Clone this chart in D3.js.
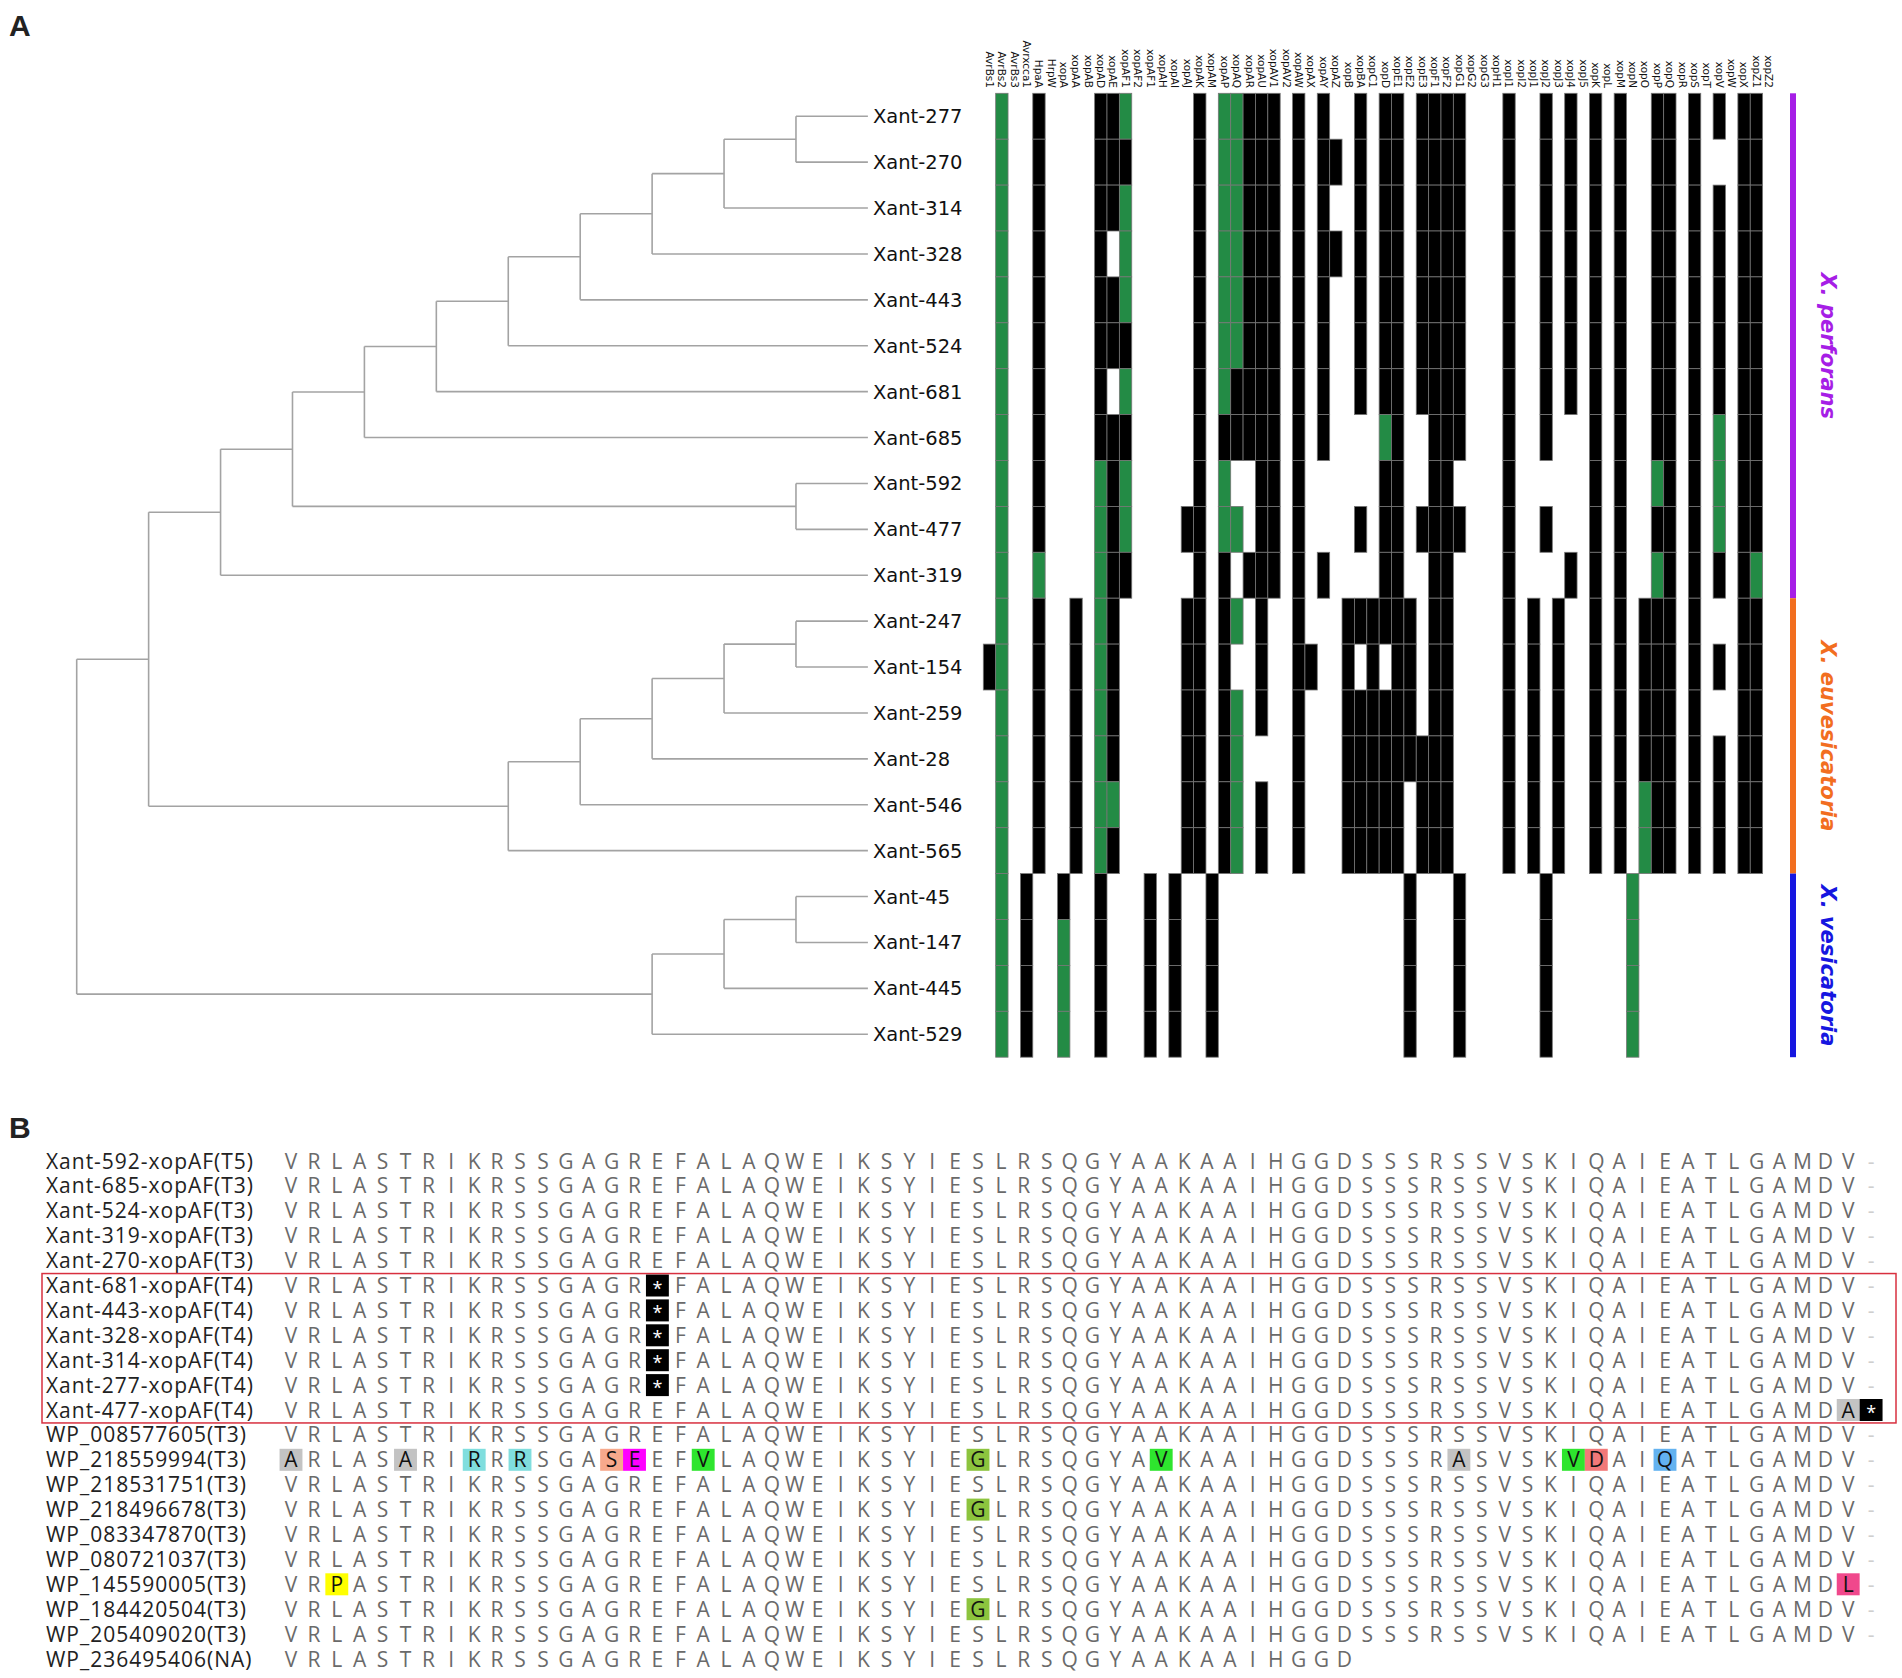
<!DOCTYPE html>
<html><head><meta charset="utf-8">
<script src="https://cdn.jsdelivr.net/npm/d3@7"></script>
<style>body{margin:0;background:#fff}svg{display:block}</style>
</head><body>
<svg id="fig" width="1902" height="1678"></svg>
<script>
// ---------------- DATA ----------------
const strains = ["Xant-277","Xant-270","Xant-314","Xant-328","Xant-443","Xant-524","Xant-681","Xant-685","Xant-592","Xant-477","Xant-319","Xant-247","Xant-154","Xant-259","Xant-28","Xant-546","Xant-565","Xant-45","Xant-147","Xant-445","Xant-529"];
const treeNewick = "(((((((((((Xant-277,Xant-270),Xant-314),Xant-328),Xant-443),Xant-524),Xant-681),Xant-685),(Xant-592,Xant-477)),Xant-319),(((((Xant-247,Xant-154),Xant-259),Xant-28),Xant-546),Xant-565)),(((Xant-45,Xant-147),Xant-445),Xant-529))";
const effectors = ["AvrBs1","AvrBs2","AvrBs3","Avrxcca1","HpaA","HrpW","xopA","xopAA","xopAB","xopAD","xopAE","xopAF1","xopAF2","xopAF1","xopAH","xopAI","xopAJ","xopAK","xopAM","xopAP","xopAQ","xopAR","xopAU","xopAV1","xopAV2","xopAW","xopAX","xopAY","xopAZ","xopB","xopBA","xopC1","xopD","xopE1","xopE2","xopE3","xopF1","xopF2","xopG1","xopG2","xopG3","xopH1","xopI1","xopI2","xopJ1","xopJ2","xopJ3","xopJ4","xopJ5","xopK","xopL","xopM","xopN","xopO","xopP","xopQ","xopR","xopS","xopT","xopV","xopW","xopX","xopZ1","xopZ2"];
// 0 = absent, 1 = present (black), 2 = present (green); one string per strain, one char per effector
const presence = [
 "02001000"+"01120000"+"01022111"+"01010010"+"11011110"+"00100101"+"01010011"+"01010110",
 "02001000"+"01110000"+"01022111"+"01011010"+"11011110"+"00100101"+"01010011"+"01000110",
 "02001000"+"01120000"+"01022111"+"01010010"+"11011110"+"00100101"+"01010011"+"01010110",
 "02001000"+"01020000"+"01022111"+"01011010"+"11011110"+"00100101"+"01010011"+"01010110",
 "02001000"+"01120000"+"01022111"+"01010010"+"11011110"+"00100101"+"01010011"+"01010110",
 "02001000"+"01110000"+"01022111"+"01010010"+"11011110"+"00100101"+"01010011"+"01010110",
 "02001000"+"01020000"+"01021111"+"01010010"+"11011110"+"00100101"+"01010011"+"01010110",
 "02001000"+"01110000"+"01011111"+"01010000"+"21001110"+"00100100"+"01010011"+"01020110",
 "02001000"+"02120000"+"01020011"+"01000000"+"11001100"+"00100000"+"01010021"+"01020110",
 "02001000"+"02120000"+"11022011"+"01000010"+"11011110"+"00100100"+"01010011"+"01020110",
 "02002000"+"02110000"+"01010111"+"01010000"+"11001100"+"00100001"+"01010021"+"01010120",
 "02001001"+"02100000"+"11012010"+"01000111"+"11101100"+"00101010"+"01010111"+"01000110",
 "12001001"+"02100000"+"11010010"+"01100101"+"01101100"+"00101010"+"01010111"+"01010110",
 "02001001"+"02100000"+"11012010"+"01000111"+"11101100"+"00101010"+"01010111"+"01000110",
 "02001001"+"02100000"+"11012000"+"01000111"+"11111100"+"00101010"+"01010111"+"01010110",
 "02001001"+"02200000"+"11012010"+"01000111"+"11011100"+"00101010"+"01010211"+"01010110",
 "02001001"+"02100000"+"11012010"+"01000111"+"11011100"+"00101010"+"01010211"+"01010110",
 "02010010"+"01000101"+"00100000"+"00000000"+"00100010"+"00000100"+"00002000"+"00000000",
 "02010020"+"01000101"+"00100000"+"00000000"+"00100010"+"00000100"+"00002000"+"00000000",
 "02010020"+"01000101"+"00100000"+"00000000"+"00100010"+"00000100"+"00002000"+"00000000",
 "02010020"+"01000101"+"00100000"+"00000000"+"00100010"+"00000100"+"00002000"+"00000000"
];
const speciesNames = ["X. perforans","X. euvesicatoria","X. vesicatoria"];
const speciesCounts = [11, 6, 4];

const alnNames = ["Xant-592-xopAF(T5)","Xant-685-xopAF(T3)","Xant-524-xopAF(T3)","Xant-319-xopAF(T3)","Xant-270-xopAF(T3)","Xant-681-xopAF(T4)","Xant-443-xopAF(T4)","Xant-328-xopAF(T4)","Xant-314-xopAF(T4)","Xant-277-xopAF(T4)","Xant-477-xopAF(T4)","WP_008577605(T3)","WP_218559994(T3)","WP_218531751(T3)","WP_218496678(T3)","WP_083347870(T3)","WP_080721037(T3)","WP_145590005(T3)","WP_184420504(T3)","WP_205409020(T3)","WP_236495406(NA)"];
const alnSeqs = [
 "VRLASTRIKRSSGAGREFALAQWEIKSYIESLRSQGYAAKAAIHGGDSSSRSSVSKIQAIEATLGAMDV-",
 "VRLASTRIKRSSGAGREFALAQWEIKSYIESLRSQGYAAKAAIHGGDSSSRSSVSKIQAIEATLGAMDV-",
 "VRLASTRIKRSSGAGREFALAQWEIKSYIESLRSQGYAAKAAIHGGDSSSRSSVSKIQAIEATLGAMDV-",
 "VRLASTRIKRSSGAGREFALAQWEIKSYIESLRSQGYAAKAAIHGGDSSSRSSVSKIQAIEATLGAMDV-",
 "VRLASTRIKRSSGAGREFALAQWEIKSYIESLRSQGYAAKAAIHGGDSSSRSSVSKIQAIEATLGAMDV-",
 "VRLASTRIKRSSGAGR*FALAQWEIKSYIESLRSQGYAAKAAIHGGDSSSRSSVSKIQAIEATLGAMDV-",
 "VRLASTRIKRSSGAGR*FALAQWEIKSYIESLRSQGYAAKAAIHGGDSSSRSSVSKIQAIEATLGAMDV-",
 "VRLASTRIKRSSGAGR*FALAQWEIKSYIESLRSQGYAAKAAIHGGDSSSRSSVSKIQAIEATLGAMDV-",
 "VRLASTRIKRSSGAGR*FALAQWEIKSYIESLRSQGYAAKAAIHGGDSSSRSSVSKIQAIEATLGAMDV-",
 "VRLASTRIKRSSGAGR*FALAQWEIKSYIESLRSQGYAAKAAIHGGDSSSRSSVSKIQAIEATLGAMDV-",
 "VRLASTRIKRSSGAGREFALAQWEIKSYIESLRSQGYAAKAAIHGGDSSSRSSVSKIQAIEATLGAMDA*",
 "VRLASTRIKRSSGAGREFALAQWEIKSYIESLRSQGYAAKAAIHGGDSSSRSSVSKIQAIEATLGAMDV-",
 "ARLASARIRRRSGASEEFVLAQWEIKSYIEGLRSQGYAVKAAIHGGDSSSRASVSKVDAIQATLGAMDV-",
 "VRLASTRIKRSSGAGREFALAQWEIKSYIESLRSQGYAAKAAIHGGDSSSRSSVSKIQAIEATLGAMDV-",
 "VRLASTRIKRSSGAGREFALAQWEIKSYIEGLRSQGYAAKAAIHGGDSSSRSSVSKIQAIEATLGAMDV-",
 "VRLASTRIKRSSGAGREFALAQWEIKSYIESLRSQGYAAKAAIHGGDSSSRSSVSKIQAIEATLGAMDV-",
 "VRLASTRIKRSSGAGREFALAQWEIKSYIESLRSQGYAAKAAIHGGDSSSRSSVSKIQAIEATLGAMDV-",
 "VRPASTRIKRSSGAGREFALAQWEIKSYIESLRSQGYAAKAAIHGGDSSSRSSVSKIQAIEATLGAMDL-",
 "VRLASTRIKRSSGAGREFALAQWEIKSYIEGLRSQGYAAKAAIHGGDSSSRSSVSKIQAIEATLGAMDV-",
 "VRLASTRIKRSSGAGREFALAQWEIKSYIESLRSQGYAAKAAIHGGDSSSRSSVSKIQAIEATLGAMDV-",
 "VRLASTRIKRSSGAGREFALAQWEIKSYIESLRSQGYAAKAAIHGGD"
];
const boxedRows = [5, 10]; // first and last row of the red box

// ---------------- STYLE ----------------
const speciesColors = ["#a61ee6","#f26e1f","#1616e0"];
const cellColors = {1:"#000000", 2:"#238b45"};
const residueColors = {A:"#c3c3c3",R:"#80dede",S:"#f7a98c",E:"#ff00ff",V:"#2ee52e",G:"#8cc43e",D:"#f27878",Q:"#63b2f0",P:"#ffff00",L:"#f0488c","*":"#000000"};

// ---------------- LAYOUT ----------------
const svg = d3.select("#fig");
const hmTop = 93.3, rowH = 45.9, hmLeft = 983.3, colW = 12.37;
const rootX = 76.7, leafX = 867.9;

const y = d3.scaleBand().domain(strains).range([hmTop, hmTop + rowH * strains.length]);
const x = d3.scaleBand().domain(d3.range(effectors.length)).range([hmLeft, hmLeft + colW * effectors.length]);

// Panel letters
svg.append("text").attr("x", 9).attr("y", 36).text("A")
  .attr("font-family","Liberation Sans, Arial").attr("font-weight","bold").attr("font-size",30).attr("fill","#222");
svg.append("text").attr("x", 9).attr("y", 1138).text("B")
  .attr("font-family","Liberation Sans, Arial").attr("font-weight","bold").attr("font-size",30).attr("fill","#222");

// ---------------- TREE ----------------
function parseNewick(s){
  let i = 0;
  function node(){
    if (s[i] === "("){
      i++;
      const children = [node()];
      while (s[i] === ","){ i++; children.push(node()); }
      i++;
      return {children};
    }
    let name = "";
    while (i < s.length && !",()".includes(s[i])) name += s[i++];
    return {name};
  }
  return node();
}
const root = d3.hierarchy(parseNewick(treeNewick));
d3.cluster().size([rowH * strains.length, leafX - rootX]).separation(() => 1)(root);
const tg = svg.append("g").attr("transform", `translate(${rootX},${hmTop})`);
const treeStroke = "#a3a3a3";
root.descendants().forEach(n => {
  if (n.children){
    const c = n.children;
    tg.append("line").attr("x1", n.y).attr("x2", n.y).attr("y1", c[0].x).attr("y2", c[c.length-1].x)
      .attr("stroke", treeStroke).attr("stroke-width", 1.6);
  }
  if (n.parent){
    tg.append("line").attr("x1", n.parent.y).attr("x2", n.y).attr("y1", n.x).attr("y2", n.x)
      .attr("stroke", treeStroke).attr("stroke-width", 1.6);
  }
});
// leaf labels
svg.append("g").selectAll("text").data(strains).join("text")
  .attr("x", leafX + 5).attr("y", d => y(d) + y.bandwidth()/2).attr("dy","0.36em")
  .attr("font-family","DejaVu Sans").attr("font-size",19.5).attr("fill","#111").text(d => d);

// ---------------- HEATMAP ----------------
const cells = [];
strains.forEach((s, r) => presence[r].split("").forEach((v, c) => { if (+v > 0) cells.push({s, c, v:+v}); }));
svg.append("g").selectAll("rect").data(cells).join("rect")
  .attr("x", d => x(d.c)).attr("y", d => y(d.s))
  .attr("width", x.bandwidth()).attr("height", y.bandwidth())
  .attr("fill", d => cellColors[d.v]).attr("stroke","#777").attr("stroke-width",0.8);

// column labels
svg.append("g").selectAll("text").data(effectors.map((e,i)=>({e,i}))).join("text")
  .attr("transform", d => `translate(${x(d.i) + x.bandwidth()/2},88) rotate(90)`)
  .attr("text-anchor","end").attr("dy","0.35em")
  .attr("font-family","DejaVu Sans").attr("font-size",10.5).attr("fill","#111").text(d => d.e);

// species strip
let start = 0;
speciesNames.forEach((name, k) => {
  const y0 = y(strains[start]), y1 = y(strains[start + speciesCounts[k] - 1]) + y.bandwidth();
  svg.append("rect").attr("x", 1790).attr("y", y0).attr("width", 6).attr("height", y1 - y0).attr("fill", speciesColors[k]);
  svg.append("text").attr("transform", `translate(1828,${(y0+y1)/2}) rotate(90)`)
    .attr("text-anchor","middle").attr("dy","0.35em")
    .attr("font-family","DejaVu Sans").attr("font-weight","bold").attr("font-style","italic")
    .attr("font-size",21).attr("fill", speciesColors[k]).text(name);
  start += speciesCounts[k];
});

// ---------------- ALIGNMENT ----------------
const alnRowH = 24.9, alnTop = 1161 - alnRowH/2;
const resW = 22.9, resLeft = 291 - resW/2;
const ya = d3.scaleBand().domain(d3.range(alnNames.length)).range([alnTop, alnTop + alnRowH * alnNames.length]);
const xa = d3.scaleBand().domain(d3.range(alnSeqs[0].length)).range([resLeft, resLeft + resW * alnSeqs[0].length]);

const ng = svg.append("g");
const names = ng.selectAll("text").data(alnNames).join("text")
  .attr("x", 46).attr("y", (d,i) => ya(i) + ya.bandwidth()/2).attr("dy","0.36em")
  .attr("font-family","Open Sans").attr("font-size",21).attr("fill","#222").text(d => d);
// tighten spacing so the first name spans ~207 px
const w0 = names.node().getComputedTextLength();
const ls = (207 - w0) / (alnNames[0].length - 1);
names.attr("letter-spacing", ls);

const ref = alnSeqs[0];
const residues = [];
alnSeqs.forEach((seq, r) => seq.split("").forEach((ch, c) => residues.push({r, c, ch, diff: ch !== ref[c]})));
const rg = svg.append("g");
rg.selectAll("rect").data(residues.filter(d => d.diff && residueColors[d.ch])).join("rect")
  .attr("x", d => xa(d.c)).attr("y", d => ya(d.r) + ya.bandwidth()/2 - 11)
  .attr("width", xa.bandwidth()).attr("height", 22)
  .attr("fill", d => residueColors[d.ch]);
rg.selectAll("text").data(residues).join("text")
  .attr("x", d => xa(d.c) + xa.bandwidth()/2)
  .attr("y", d => ya(d.r) + ya.bandwidth()/2).attr("dy", d => d.ch === "*" ? "0.5em" : "0.36em")
  .attr("text-anchor","middle")
  .attr("font-family","Open Sans").attr("font-size", d => d.ch === "*" ? 18 : 21)
  .attr("fill", d => d.ch === "-" ? "#cfcfcf" : d.ch === "*" ? "#ffffff" : d.diff ? "#111" : "#6a6a6a")
  .text(d => d.ch);

// red box
svg.append("rect").attr("x", 42).attr("y", ya(boxedRows[0]) + 0.5)
  .attr("width", 1896 - 42).attr("height", ya(boxedRows[1]) + ya.bandwidth() - ya(boxedRows[0]))
  .attr("fill","none").attr("stroke","#d8303f").attr("stroke-width",1.5);
</script>
</body></html>
